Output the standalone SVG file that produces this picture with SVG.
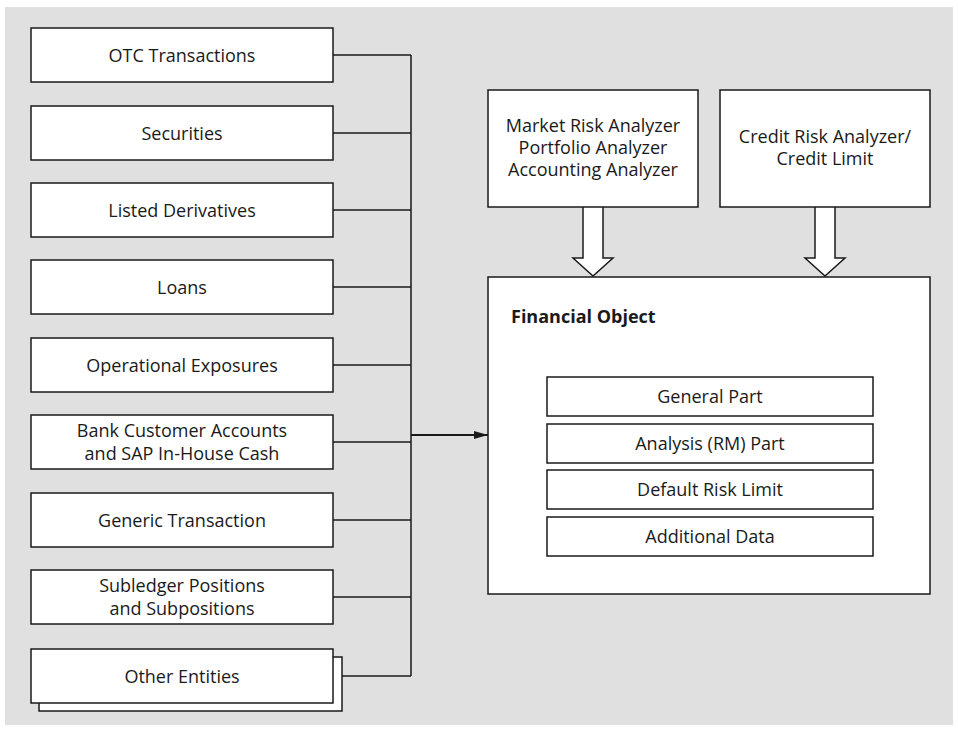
<svg xmlns="http://www.w3.org/2000/svg" width="958" height="733" viewBox="0 0 958 733">
<style>
.box{fill:#fff;stroke:#1a1a1a;stroke-width:1.5}
.t{font-family:"Open Sans","Noto Sans",sans-serif;font-size:18px;fill:#1a1a1a;text-anchor:middle}
.b{font-family:"Open Sans","Noto Sans",sans-serif;font-size:18px;font-weight:bold;fill:#1a1a1a}
.ln{fill:none;stroke:#1a1a1a;stroke-width:1.5}
.hollow{fill:#fff;stroke:#1a1a1a;stroke-width:1.5;stroke-linejoin:miter}
</style>
<defs>
<marker id="ah2" viewBox="0 0 14 8" refX="14" refY="4" markerWidth="14" markerHeight="8" markerUnits="userSpaceOnUse" orient="auto"><path d="M0,0 L14,4 L0,8 Z" fill="#1a1a1a"/></marker>
</defs>
<rect x="0" y="0" width="958" height="733" fill="#fff"/>
<rect x="5" y="7" width="948" height="718" fill="#e0e0e0"/>

<g id="connectors">
<path class="ln" d="M333,55 H411 M333,133 H411 M333,210 H411 M333,287 H411 M333,365 H411 M333,442 H411 M333,520 H411 M333,597 H411 M333,676 H411 M411,55 V676"/>
<line x1="411" y1="435" x2="488" y2="435" stroke="#1a1a1a" stroke-width="2" marker-end="url(#ah2)"/>
<path class="hollow" d="M583,207 V258 H573 L593,276 L613,258 H603 V207"/>
<path class="hollow" d="M815,207 V258 H805 L825,276 L845,258 H835 V207"/>
</g>

<g id="otc"><rect class="box" x="31" y="28" width="302" height="54"/><text class="t" x="182" y="61.5">OTC Transactions</text></g>
<g id="securities"><rect class="box" x="31" y="106" width="302" height="54"/><text class="t" x="182" y="139.5">Securities</text></g>
<g id="listed"><rect class="box" x="31" y="183" width="302" height="54"/><text class="t" x="182" y="216.5">Listed Derivatives</text></g>
<g id="loans"><rect class="box" x="31" y="260" width="302" height="54"/><text class="t" x="182" y="293.5">Loans</text></g>
<g id="opexp"><rect class="box" x="31" y="338" width="302" height="54"/><text class="t" x="182" y="371.5">Operational Exposures</text></g>
<g id="bank"><rect class="box" x="31" y="415" width="302" height="54"/><text class="t" x="182" y="437">Bank Customer Accounts</text><text class="t" x="182" y="460">and SAP In-House Cash</text></g>
<g id="generic"><rect class="box" x="31" y="493" width="302" height="54"/><text class="t" x="182" y="526.5">Generic Transaction</text></g>
<g id="subledger"><rect class="box" x="31" y="570" width="302" height="54"/><text class="t" x="182" y="592">Subledger Positions</text><text class="t" x="182" y="615">and Subpositions</text></g>
<g id="other"><rect class="box" x="39" y="657" width="303" height="54"/><rect class="box" x="31" y="649" width="302" height="54"/><text class="t" x="182" y="682.5">Other Entities</text></g>

<g id="market"><rect class="box" x="488" y="90" width="210" height="117"/><text class="t" x="593" y="132">Market Risk Analyzer</text><text class="t" x="593" y="154">Portfolio Analyzer</text><text class="t" x="593" y="176">Accounting Analyzer</text></g>
<g id="credit"><rect class="box" x="720" y="90" width="210" height="117"/><text class="t" x="825" y="143">Credit Risk Analyzer/</text><text class="t" x="825" y="165">Credit Limit</text></g>

<g id="financial"><rect class="box" x="488" y="277" width="442" height="317"/><text class="b" x="511" y="323">Financial Object</text>
<g id="general"><rect class="box" x="547" y="377" width="326" height="39"/><text class="t" x="710" y="403">General Part</text></g>
<g id="analysis"><rect class="box" x="547" y="424" width="326" height="39"/><text class="t" x="710" y="450">Analysis (RM) Part</text></g>
<g id="default"><rect class="box" x="547" y="470" width="326" height="39"/><text class="t" x="710" y="496">Default Risk Limit</text></g>
<g id="additional"><rect class="box" x="547" y="517" width="326" height="39"/><text class="t" x="710" y="543">Additional Data</text></g>
</g>
</svg>
